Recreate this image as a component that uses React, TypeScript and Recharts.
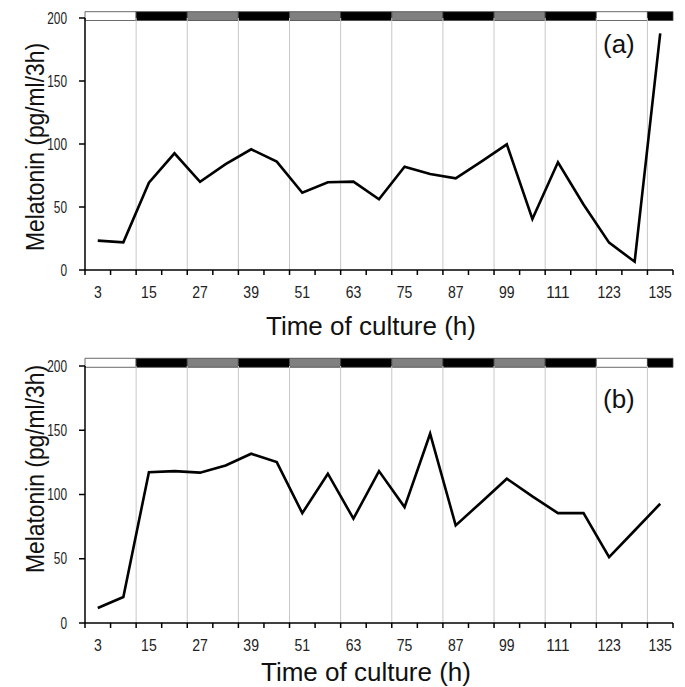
import React from 'react';
import { LineChart, Line, XAxis, YAxis, ReferenceLine, ReferenceArea } from 'recharts';

const hours = [3, 9, 15, 21, 27, 33, 39, 45, 51, 57, 63, 69, 75, 81, 87, 93, 99, 105, 111, 117, 123, 129, 135];
const melatoninA = [23.3, 22, 69.3, 92.6, 70, 84, 95.8, 86, 61.3, 69.6, 70.1, 56.1, 82, 76.2, 72.8, 86, 99.7, 40.5, 85.5, 52, 21.7, 6.6, 187.8];
const melatoninB = [11.7, 20.2, 117.4, 118.2, 117, 122.6, 131.7, 125.2, 85.5, 116.2, 81.2, 118.2, 90.2, 147.3, 76, 94, 112.3, 98.5, 85.5, 85.5, 51.3, 72, 92.8];

const xTickLabels = [3, 15, 27, 39, 51, 63, 75, 87, 99, 111, 123, 135];
const xTickMarks = [0, 6, 12, 18, 24, 30, 36, 42, 48, 54, 60, 66, 72, 78, 84, 90, 96, 102, 108, 114, 120, 126, 132, 138];
const gridHours = [12, 24, 36, 48, 60, 72, 84, 96, 108, 120, 132];
const yTicks = [0, 50, 100, 150, 200];

const phaseStarts = [0, 12, 24, 36, 48, 60, 72, 84, 96, 108, 120, 132];
const phaseEnds = [12, 24, 36, 48, 60, 72, 84, 96, 108, 120, 132, 138];
const phaseKinds = ['light', 'dark', 'gray', 'dark', 'gray', 'dark', 'gray', 'dark', 'gray', 'dark', 'light', 'dark'];

const phaseColor: Record<string, string> = { light: '#ffffff', dark: '#000000', gray: '#808080' };
const FONT = 'Arial, "Liberation Sans", Helvetica, sans-serif';
const allXTicks = Array.from(new Set([...xTickMarks, ...xTickLabels])).sort((a, b) => a - b);

type PanelProps = {
  values: number[];
  letter: string;
  height: number;
  top: number;
  marginTop: number;
  plotBottom: number;
  bar: [number, number];
  titleY: number;
  titleX: number;
  yLabelY: number;
  letterY: number;
};

const YTick = (props: any) => {
  const { x, y, payload } = props;
  const s = String(payload.value);
  return (
    <text
      x={x}
      y={y}
      dy={5.5}
      textAnchor="end"
      fontSize={16}
      fill="#222"
      fontFamily={FONT}
      textLength={s.length * 6.6}
      lengthAdjust="spacingAndGlyphs"
    >
      {s}
    </text>
  );
};

const Panel = ({ values, letter, height, top, marginTop, plotBottom, bar, titleY, titleX, yLabelY, letterY }: PanelProps) => {
  const data = hours.map((h, i) => ({ hour: h, value: values[i] }));
  const tick = (props: any) => {
    const { x, payload } = props;
    const v = payload.value;
    const s = String(v);
    return (
      <g>
        {xTickMarks.includes(v) && (
          <line x1={x} x2={x} y1={plotBottom} y2={plotBottom + 5} stroke="#000" strokeWidth={1.5} />
        )}
        {xTickLabels.includes(v) && (
          <text
            x={x}
            y={plotBottom + 28}
            textAnchor="middle"
            fontSize={16}
            fill="#222"
            fontFamily={FONT}
            textLength={s.length * 7.8}
            lengthAdjust="spacingAndGlyphs"
          >
            {s}
          </text>
        )}
      </g>
    );
  };
  return (
    <div style={{ position: 'absolute', left: 0, top, width: 685, height }}>
      <LineChart
        width={685}
        height={height}
        data={data}
        margin={{ top: marginTop, right: 12, left: 0, bottom: 0 }}
        style={{ fontFamily: FONT }}
      >
        <XAxis
          type="number"
          dataKey="hour"
          domain={[0, 138]}
          ticks={allXTicks}
          interval={0}
          tickLine={false}
          tick={tick}
          height={height - plotBottom}
          axisLine={{ stroke: '#000', strokeWidth: 1.5 }}
        />
        <YAxis
          domain={[0, 200]}
          ticks={yTicks}
          width={85}
          tickSize={6}
          tickMargin={12}
          tick={<YTick />}
          tickLine={{ stroke: '#000', strokeWidth: 1.5 }}
          axisLine={{ stroke: '#000', strokeWidth: 1.5 }}
        />
        {gridHours.map((g) => (
          <ReferenceLine key={'g' + g} x={g} stroke="#c8c8c8" strokeWidth={1} />
        ))}
        <Line
          type="linear"
          dataKey="value"
          stroke="#000"
          strokeWidth={2.6}
          dot={false}
          isAnimationActive={false}
        />
        {phaseStarts.map((s, i) => (
          <ReferenceArea
            key={'p' + s}
            x1={s}
            x2={phaseEnds[i]}
            y1={bar[0]}
            y2={bar[1]}
            fill={phaseColor[phaseKinds[i]]}
            fillOpacity={1}
            stroke="#444"
            strokeWidth={0.8}
            ifOverflow="visible"
          />
        ))}
        <text
          x={44}
          y={yLabelY}
          transform={`rotate(-90, 44, ${yLabelY})`}
          textAnchor="middle"
          fontSize={25}
          fill="#111"
          fontFamily={FONT}
          textLength={208}
          lengthAdjust="spacingAndGlyphs"
        >
          Melatonin (pg/ml/3h)
        </text>
        <text x={titleX} y={titleY} textAnchor="middle" fontSize={26} fill="#111" fontFamily={FONT}>
          Time of culture (h)
        </text>
        <text x={603} y={letterY} fontSize={26} fill="#111" fontFamily={FONT}>
          {letter}
        </text>
      </LineChart>
    </div>
  );
};

export default function App() {
  return (
    <div style={{ position: 'absolute', left: 0, top: 0, width: 685, height: 687, background: '#fff' }}>
      <Panel
        values={melatoninA}
        letter="(a)"
        height={343}
        top={0}
        marginTop={18}
        plotBottom={270}
        bar={[198, 205]}
        titleY={335}
        titleX={371}
        yLabelY={147}
        letterY={53}
      />
      <Panel
        values={melatoninB}
        letter="(b)"
        height={344}
        top={343}
        marginTop={23}
        plotBottom={280}
        bar={[199, 206]}
        titleY={338}
        titleX={366}
        yLabelY={126}
        letterY={65}
      />
    </div>
  );
}
